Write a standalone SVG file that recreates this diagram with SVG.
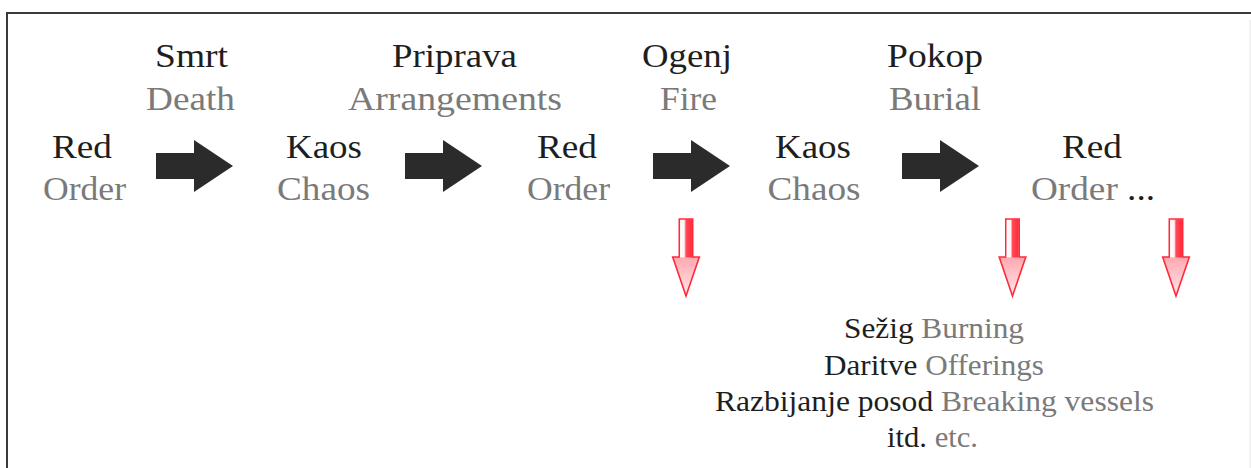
<svg xmlns="http://www.w3.org/2000/svg" width="1251" height="468" viewBox="0 0 1251 468">
<style>
text{font-family:"Liberation Serif","Times New Roman",Times,Tinos,"DejaVu Serif","Noto Serif","Nimbus Roman","FreeSerif",Georgia,serif;text-anchor:middle}
.t{font-size:34px}
.b{font-size:30px}
.k{fill:#1e1e1e}
.g{fill:#7a7a7a}
.blk{fill:#2b2b2b}
.red{stroke:#ff2a3a;stroke-width:1.6;stroke-linejoin:miter}
</style>
<defs>
<linearGradient id="shaftG" x1="0" y1="0" x2="1" y2="0">
<stop offset="0" stop-color="#ffffff"/>
<stop offset="0.35" stop-color="#fff2f3"/>
<stop offset="0.5" stop-color="#ff4a58"/>
<stop offset="1" stop-color="#ff2a3a"/>
</linearGradient>
<linearGradient id="headG" x1="0" y1="0" x2="0" y2="1">
<stop offset="0" stop-color="#ff6a78"/>
<stop offset="1" stop-color="#ffe6e9"/>
</linearGradient>
<polygon id="bk" points="0,153 38,153 38,140 77,166 38,192 38,179 0,179"/>
<g id="rd">
<polygon class="red" fill="url(#headG)" points="-6.7,219 6.7,219 6.7,257 13.3,257 0,296 -13.3,257 -6.7,257"/>
<rect x="-5.9" y="219.8" width="11.8" height="37.6" fill="url(#shaftG)"/>
</g>
</defs>
<rect width="1251" height="468" fill="#ffffff"/>
<g id="frame" fill="none">
<path d="M7,468 V13 H1251" stroke="#3a3a3a" stroke-width="2"/>
<path d="M1250,20 V468" stroke="#e6e6e6" stroke-width="1"/>
</g>
<g id="connectors">
<use href="#bk" class="blk" x="156"/>
<use href="#bk" class="blk" x="405"/>
<use href="#bk" class="blk" x="653"/>
<use href="#bk" class="blk" x="902"/>
<use href="#rd" x="686"/>
<use href="#rd" x="1012.5"/>
<use href="#rd" x="1176"/>
</g>
<g id="label-smrt"><text class="t k" x="191.5" y="67" textLength="73" lengthAdjust="spacingAndGlyphs">Smrt</text><text class="t g" x="190.5" y="110" textLength="89" lengthAdjust="spacingAndGlyphs">Death</text></g>
<g id="label-priprava"><text class="t k" x="454.5" y="67" textLength="125" lengthAdjust="spacingAndGlyphs">Priprava</text><text class="t g" x="455" y="110" textLength="214" lengthAdjust="spacingAndGlyphs">Arrangements</text></g>
<g id="label-ogenj"><text class="t k" x="687" y="67" textLength="90" lengthAdjust="spacingAndGlyphs">Ogenj</text><text class="t g" x="688.5" y="110" textLength="57" lengthAdjust="spacingAndGlyphs">Fire</text></g>
<g id="label-pokop"><text class="t k" x="935" y="67" textLength="96" lengthAdjust="spacingAndGlyphs">Pokop</text><text class="t g" x="935" y="110" textLength="92" lengthAdjust="spacingAndGlyphs">Burial</text></g>
<g id="node-red1"><text class="t k" x="82" y="158" textLength="60" lengthAdjust="spacingAndGlyphs">Red</text><text class="t g" x="84.5" y="200" textLength="83" lengthAdjust="spacingAndGlyphs">Order</text></g>
<g id="node-kaos1"><text class="t k" x="324" y="158" textLength="76" lengthAdjust="spacingAndGlyphs">Kaos</text><text class="t g" x="323.5" y="200" textLength="93" lengthAdjust="spacingAndGlyphs">Chaos</text></g>
<g id="node-red2"><text class="t k" x="567" y="158" textLength="60" lengthAdjust="spacingAndGlyphs">Red</text><text class="t g" x="568.5" y="200" textLength="83" lengthAdjust="spacingAndGlyphs">Order</text></g>
<g id="node-kaos2"><text class="t k" x="813" y="158" textLength="76" lengthAdjust="spacingAndGlyphs">Kaos</text><text class="t g" x="814" y="200" textLength="93" lengthAdjust="spacingAndGlyphs">Chaos</text></g>
<g id="node-red3"><text class="t k" x="1092" y="158" textLength="60" lengthAdjust="spacingAndGlyphs">Red</text><text class="t" x="1093" y="200" textLength="124" lengthAdjust="spacingAndGlyphs"><tspan class="g">Order</tspan><tspan class="k"> ...</tspan></text></g>
<g id="list">
<text class="b" x="934" y="338" textLength="180" lengthAdjust="spacingAndGlyphs"><tspan class="k">Sežig</tspan><tspan class="g"> Burning</tspan></text>
<text class="b" x="934" y="375" textLength="220" lengthAdjust="spacingAndGlyphs"><tspan class="k">Daritve</tspan><tspan class="g"> Offerings</tspan></text>
<text class="b" x="934.5" y="411" textLength="439" lengthAdjust="spacingAndGlyphs"><tspan class="k">Razbijanje posod</tspan><tspan class="g"> Breaking vessels</tspan></text>
<text class="b" x="932.5" y="447" textLength="91" lengthAdjust="spacingAndGlyphs"><tspan class="k">itd.</tspan><tspan class="g"> etc.</tspan></text>
</g>
</svg>
